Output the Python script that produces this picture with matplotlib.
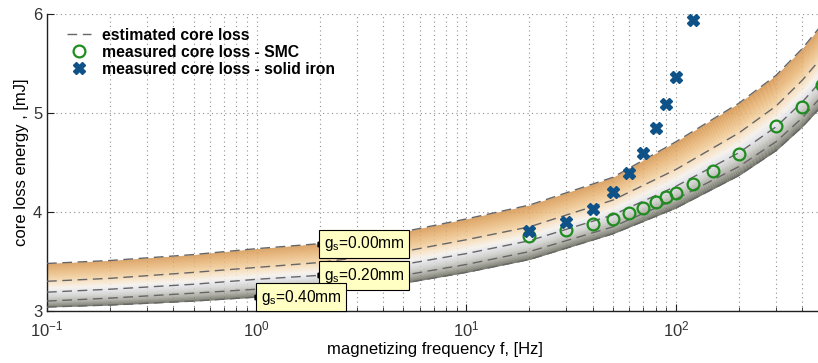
import numpy as np
import matplotlib
matplotlib.use("Agg")
import matplotlib.pyplot as plt
from matplotlib.colors import LinearSegmentedColormap

plt.rcParams['font.family'] = ['Liberation Sans', 'DejaVu Sans']
plt.rcParams['mathtext.fontset'] = 'custom'
plt.rcParams['mathtext.rm'] = 'Liberation Sans'
plt.rcParams['mathtext.it'] = 'Liberation Sans:italic'

# ---- data ----
freq = [0.1, 0.2, 0.5, 1, 2, 5, 10, 20, 50, 100, 200, 300, 400, 500]
est_gs000 = [3.48, 3.51, 3.57, 3.63, 3.68, 3.80, 3.93, 4.07, 4.35, 4.71, 5.10, 5.38, 5.65, 5.90]
est_gs010 = [3.30, 3.33, 3.39, 3.44, 3.49, 3.60, 3.72, 3.85, 4.12, 4.43, 4.80, 5.07, 5.33, 5.57]
est_gs020 = [3.19, 3.22, 3.27, 3.32, 3.36, 3.47, 3.58, 3.71, 3.97, 4.26, 4.60, 4.86, 5.11, 5.34]
est_gs030 = [3.10, 3.13, 3.18, 3.22, 3.26, 3.36, 3.47, 3.60, 3.85, 4.13, 4.46, 4.71, 4.95, 5.18]
est_gs040 = [3.04, 3.06, 3.10, 3.14, 3.18, 3.28, 3.39, 3.52, 3.78, 4.04, 4.37, 4.62, 4.86, 5.08]

smc_freq = [20, 30, 40, 50, 60, 70, 80, 90, 100, 120, 150, 200, 300, 400, 500]
smc_loss = [3.76, 3.82, 3.88, 3.93, 3.99, 4.04, 4.10, 4.15, 4.19, 4.28, 4.41, 4.59, 4.87, 5.06, 5.28]

iron_freq = [20, 30, 40, 50, 60, 70, 80, 90, 100, 120]
iron_loss = [3.81, 3.90, 4.03, 4.20, 4.39, 4.60, 4.85, 5.09, 5.36, 5.94]

labels = ['g$_\\mathregular{s}$=0.00mm', 'g$_\\mathregular{s}$=0.20mm', 'g$_\\mathregular{s}$=0.40mm']
label_freq = [2, 2, 1]

# ---- figure ----
fig = plt.figure(figsize=(8.18, 3.63), dpi=100)
ax = fig.add_axes([0.0575, 0.1433, 0.948, 0.818])
ax.set_xscale('log')
ax.set_xlim(0.1, 500)
ax.set_ylim(3, 6)

f = np.array(freq)
top = np.array(est_gs000)
bot = np.array(est_gs040)

cmap = LinearSegmentedColormap.from_list('band', [
    (0.00, '#D4924A'), (0.15, '#E4AC68'), (0.32, '#F0C892'), (0.46, '#F7E2C4'),
    (0.56, '#F5F0EA'), (0.64, '#E4E5EB'), (0.76, '#CACAC6'), (0.88, '#A0A096'),
    (1.00, '#5C5E50')])
n = 80
for k in range(n):
    hi = top - (top - bot) * k / n
    lo = top - (top - bot) * (k + 1.15) / n
    ax.fill_between(f, np.maximum(lo, bot), hi, color=cmap((k + 0.5) / n),
                    linewidth=0, antialiased=False, zorder=2)

for i, curve in enumerate([est_gs000, est_gs010, est_gs020, est_gs030, est_gs040]):
    ax.plot(freq, curve, ls=(0, (7, 4)), color='#666666', lw=1.0, zorder=3,
            label='estimated core loss' if i == 0 else None)

ax.plot(smc_freq, smc_loss, ls='none', marker='o', ms=8.5, mfc='none', mec='#1E8C1E',
        mew=1.6, zorder=5, label='measured core loss - SMC', clip_on=False)
ax.plot(iron_freq, iron_loss, ls='none', marker='X', ms=9, color='#0F5287', mec='#0F5287',
        zorder=5, label='measured core loss - solid iron')

curves_for_labels = [est_gs000, est_gs020, est_gs040]
for lab, lf, cv in zip(labels, label_freq, curves_for_labels):
    yv = np.interp(np.log10(lf), np.log10(freq), cv)
    ax.plot([lf], [yv], marker='>', color='black', ms=3.5, zorder=7)
    ax.annotate(lab, xy=(lf, yv), xytext=(3.0, 0), textcoords='offset points',
                ha='left', va='center', fontsize=11.2, zorder=8,
                bbox=dict(boxstyle='square,pad=0.3', fc='#FFFFC4', ec='black', lw=0.8))

# grid
ax.grid(True, which='major', axis='both', ls=(0, (1, 3)), color='#909090', lw=0.8, zorder=0)
ax.grid(True, which='minor', axis='x', ls=(0, (1, 3)), color='#909090', lw=0.8, zorder=0)
ax.set_axisbelow(True)

for s in ['top', 'right']:
    ax.spines[s].set_visible(False)
for s in ['left', 'bottom']:
    ax.spines[s].set_color('#202020')
    ax.spines[s].set_linewidth(1.0)

ax.set_yticks([3, 4, 5, 6])
ax.tick_params(axis='both', which='major', direction='in', length=5, labelsize=12,
               labelcolor='#333333', color='#202020')
ax.tick_params(axis='x', which='minor', direction='in', length=3, color='#202020')
ax.tick_params(axis='x', which='major', pad=6)

ax.set_xlabel('magnetizing frequency f, [Hz]', fontsize=12, labelpad=2)
ax.set_ylabel('core loss energy , [mJ]', fontsize=12, labelpad=3)

leg = ax.legend(loc='upper left', bbox_to_anchor=(0.018, 0.975), frameon=False,
                prop={'weight': 'bold', 'size': 11.3}, labelspacing=0.12,
                handlelength=1.5, handletextpad=0.7, borderaxespad=0)

fig.savefig('out.png', dpi=100)
